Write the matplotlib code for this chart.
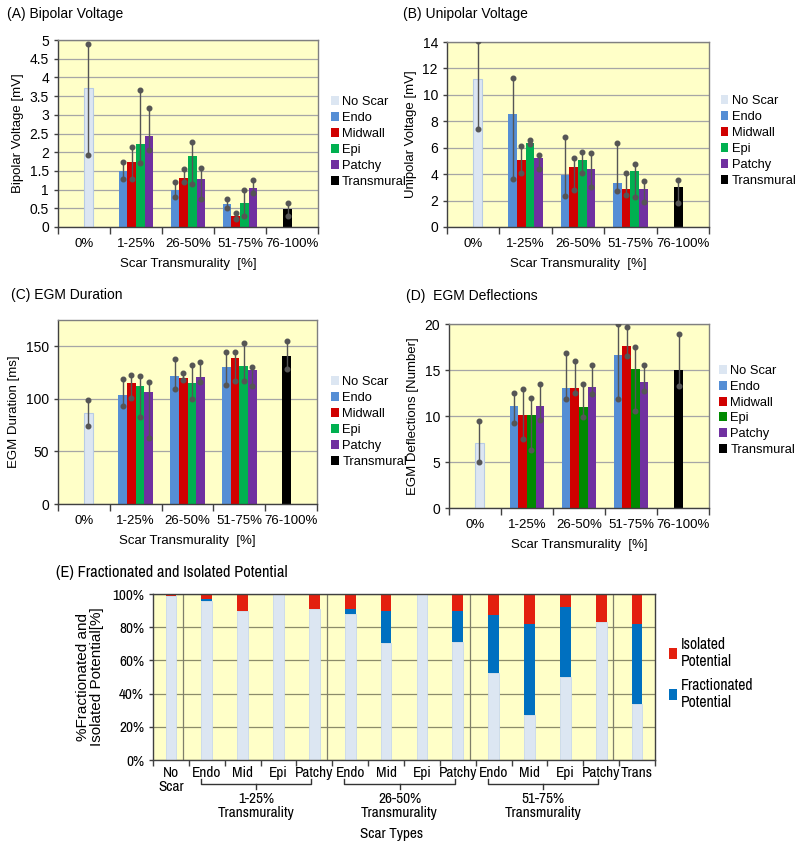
import matplotlib
matplotlib.use("Agg")
import matplotlib.pyplot as plt
import matplotlib.transforms as mtransforms
from matplotlib.patches import Patch
import numpy as np
from matplotlib import font_manager

# ---------------- data ----------------
groups = ['0%', '1-25%', '26-50%', '51-75%', '76-100%']
series_names = ['No Scar', 'Endo', 'Midwall', 'Epi', 'Patchy', 'Transmural']
bar_series = ['No Scar', 'Endo', 'Midwall', 'Epi', 'Patchy',
              'Endo', 'Midwall', 'Epi', 'Patchy',
              'Endo', 'Midwall', 'Epi', 'Patchy', 'Transmural']
bar_group = [0, 1, 1, 1, 1, 2, 2, 2, 2, 3, 3, 3, 3, 4]

bip_mean = [3.72, 1.50, 1.74, 2.23, 2.43, 1.00, 1.30, 1.90, 1.28, 0.61, 0.30, 0.65, 1.04, 0.47]
bip_low = [1.92, 1.29, 1.29, 1.70, 2.05, 0.80, 1.20, 1.14, 0.76, 0.51, 0.22, 0.29, 0.92, 0.29]
bip_high = [4.89, 1.74, 2.14, 3.66, 3.17, 1.20, 1.54, 2.28, 1.59, 0.76, 0.37, 1.00, 1.25, 0.63]

uni_mean = [11.2, 8.53, 5.05, 6.36, 5.23, 3.91, 4.55, 5.05, 4.39, 3.33, 2.88, 4.22, 2.88, 3.00]
uni_low = [7.42, 3.66, 4.09, 6.25, 4.39, 2.37, 2.83, 4.09, 3.03, 2.70, 2.40, 2.25, 1.87, 1.82]
uni_high = [14.1, 11.24, 6.11, 6.55, 5.48, 6.82, 5.25, 5.66, 5.60, 6.36, 4.09, 4.77, 3.51, 3.54]

dur_mean = [86.6, 103.5, 115.3, 112.0, 106.7, 122.0, 119.7, 115.0, 120.7, 130.0, 138.5, 131.0, 127.7, 140.4]
dur_low = [73.9, 93.0, 101.0, 82.8, 62.7, 109.6, 117.8, 100.0, 116.0, 113.4, 116.6, 116.6, 112.0, 128.0]
dur_high = [98.7, 118.5, 122.6, 122.0, 116.0, 137.6, 124.8, 132.0, 135.0, 145.0, 145.0, 153.5, 130.3, 155.0]

defl_mean = [7.09, 11.09, 10.1, 10.1, 11.13, 13.09, 13.09, 11.0, 13.16, 16.65, 17.63, 15.16, 13.7, 15.0]
defl_low = [4.95, 9.27, 7.45, 6.30, 9.56, 11.8, 12.47, 9.85, 12.4, 11.8, 16.55, 10.58, 12.7, 13.27]
defl_high = [9.45, 12.47, 12.95, 11.93, 13.5, 16.9, 15.93, 13.5, 15.5, 20.0, 19.63, 17.49, 15.5, 18.95]

# Panel E (percent)
e_labels = ['No\nScar', 'Endo', 'Mid', 'Epi', 'Patchy', 'Endo', 'Mid', 'Epi', 'Patchy',
            'Endo', 'Mid', 'Epi', 'Patchy', 'Trans']
e_none = [99, 95.5, 90, 100, 91, 88, 70.5, 100, 71, 52.5, 27, 50, 83, 34]
e_fract = [0, 1.5, 0, 0, 0, 3, 19.5, 0, 19, 35, 55, 42, 0, 48]
e_isol = [1, 3, 10, 0, 9, 9, 10, 0, 10, 12.5, 18, 8, 17, 18]
e_brackets = [('1-25%\nTransmurality', 1, 4), ('26-50%\nTransmurality', 5, 8),
              ('51-75%\nTransmurality', 9, 12)]

# ---------------- style ----------------
ttf = font_manager.fontManager.ttflist
avail = {f.name for f in ttf}
base_font = 'Liberation Sans' if 'Liberation Sans' in avail else 'DejaVu Sans'
narrow = None
for f in ttf:
    if ('Narrow' in f.name or 'Condensed' in f.name) and 'Mono' not in f.name \
            and 'Serif' not in f.name:
        narrow = f.name
        break
narrow_stretch = 'normal'
if narrow is None:
    for f in ttf:
        if f.stretch in ('condensed', 'semi-condensed') and 'Mono' not in f.name \
                and 'Serif' not in f.name:
            narrow = f.name
            narrow_stretch = f.stretch
            break
if narrow is None:
    narrow = base_font
NF = dict(family=[narrow, 'DejaVu Sans'], stretch=narrow_stretch)
plt.rcParams['font.family'] = [base_font, 'DejaVu Sans']

FS = 9.5
EFS = 11
BG = '#ffffc8'
GRID = '#a6a6a6'
colors = {'No Scar': '#dce6f2', 'Endo': '#558ed5', 'Midwall': '#d00000',
          'Epi': '#00b050', 'Patchy': '#7030a0', 'Transmural': '#000000'}
slot = {'No Scar': 0.5, 'Endo': -1.5, 'Midwall': -0.5, 'Epi': 0.5, 'Patchy': 1.5,
        'Transmural': -0.5}
W = 1.0 / 6.0

fig = plt.figure(figsize=(8.0, 8.49), dpi=100)


def box(l, t, r, b):
    return [l / 800, 1 - b / 849, (r - l) / 800, (b - t) / 849]


def panel(rect, mean, low, high, ylim, yticks, yticklabels, ylabel, title, title_xy,
          epi_color=None, legend_anchor=(1.01, 0.5)):
    ax = fig.add_axes(box(*rect))
    ax.set_facecolor(BG)
    cols = dict(colors)
    if epi_color:
        cols['Epi'] = epi_color
    x = np.array([g + slot[s] * W for g, s in zip(bar_group, bar_series)])
    mean = np.array(mean)
    for xi, m, s in zip(x, mean, bar_series):
        ec = '#b8cce4' if s == 'No Scar' else 'none'
        ax.bar(xi, m, width=W, color=cols[s], edgecolor=ec, linewidth=0.8, zorder=2)
    yerr = [mean - np.array(low), np.array(high) - mean]
    _, caps, _ = ax.errorbar(x, mean, yerr=yerr, fmt='none', ecolor='#555555',
                             elinewidth=1.0, capsize=2.2, zorder=3)
    for c in caps:
        c.set_marker('o')
        c.set_markersize(3.3)
        c.set_color('#555555')
    ax.set_xlim(-0.5, 4.5)
    ax.set_ylim(*ylim)
    ax.set_yticks(yticks)
    ax.set_yticklabels(yticklabels, fontsize=FS + 0.5)
    ax.set_xticks(range(len(groups)))
    ax.set_xticklabels(groups, fontsize=FS)
    ax.set_xticks(np.arange(-0.5, 4.6, 1), minor=True)
    ax.tick_params(axis='x', which='major', length=0, pad=8)
    ax.tick_params(axis='x', which='minor', length=5, width=1, color='#404040')
    ax.tick_params(axis='y', length=3, width=1, color='#404040')
    ax.yaxis.grid(True, color=GRID, linewidth=0.9, zorder=0)
    ax.set_axisbelow(True)
    for sp in ['top', 'right']:
        ax.spines[sp].set_color('#808080')
        ax.spines[sp].set_linewidth(1.0)
    for sp in ['left', 'bottom']:
        ax.spines[sp].set_color('#404040')
        ax.spines[sp].set_linewidth(1.0)
    ax.set_ylabel(ylabel, fontsize=FS, labelpad=4)
    ax.set_xlabel('Scar Transmurality  [%]', fontsize=FS, labelpad=6)
    fig.text(title_xy[0] / 800, 1 - title_xy[1] / 849, title, fontsize=10,
             ha='left', va='center')
    handles = [Patch(facecolor=cols[s], edgecolor='none') for s in series_names]
    ax.legend(handles, series_names, loc='center left', bbox_to_anchor=legend_anchor,
              frameon=False, fontsize=9.3, handlelength=0.6, handleheight=0.7,
              handletextpad=0.25, labelspacing=0.3, borderaxespad=0)
    return ax


panel((58, 40, 318, 227), bip_mean, bip_low, bip_high, (0, 5),
      np.arange(0, 5.01, 0.5), ['0', '0.5', '1', '1.5', '2', '2.5', '3', '3.5', '4', '4.5', '5'],
      'Bipolar Voltage [mV]', '(A) Bipolar Voltage', (7, 14), legend_anchor=(1.03, 0.455))
panel((447, 42, 709, 227), uni_mean, uni_low, uni_high, (0, 14),
      np.arange(0, 14.1, 2), [str(v) for v in range(0, 15, 2)],
      'Unipolar Voltage [mV]', '(B) Unipolar Voltage', (403, 14), legend_anchor=(1.025, 0.465))
panel((58, 320, 317, 504), dur_mean, dur_low, dur_high, (0, 175),
      [0, 50, 100, 150], ['0', '50', '100', '150'],
      'EGM Duration [ms]', '(C) EGM Duration', (11, 295), legend_anchor=(1.035, 0.445))
panel((449, 324, 709, 508), defl_mean, defl_low, defl_high, (0, 20),
      [0, 5, 10, 15, 20], ['0', '5', '10', '15', '20'],
      'EGM Deflections [Number]', '(D)  EGM Deflections', (406, 296),
      epi_color='#008a00', legend_anchor=(1.02, 0.53))

# ---------------- panel E ----------------
axE = fig.add_axes(box(153, 594, 655, 760))
axE.set_facecolor(BG)
xe = np.arange(len(e_labels))
none = np.array(e_none)
fract = np.array(e_fract)
isol = np.array(e_isol)
axE.bar(xe, none, width=0.3, color='#dce6f2', edgecolor='#c9d8ec', linewidth=0.6, zorder=2)
axE.bar(xe, fract, width=0.3, bottom=none, color='#0070c0', zorder=2)
axE.bar(xe, isol, width=0.3, bottom=none + fract, color='#e3200f', zorder=2)
axE.set_xlim(-0.5, len(e_labels) - 0.5)
axE.set_ylim(0, 100)
axE.set_yticks(np.arange(0, 101, 20))
axE.set_yticklabels(['%d%%' % v for v in range(0, 101, 20)], fontsize=EFS, **NF)
axE.yaxis.grid(True, color='#8c8c6a', linewidth=0.9, zorder=0)
for xv in [0.34, 4.34, 8.34, 12.34]:
    axE.axvline(xv, color='#7f7f6a', linewidth=0.9, zorder=1)
axE.set_axisbelow(True)
axE.set_xticks(xe)
axE.set_xticklabels(e_labels, fontsize=EFS, linespacing=1.0, **NF)
axE.set_xticks(np.arange(-0.5, len(e_labels), 1), minor=True)
axE.tick_params(axis='x', which='major', length=0, pad=4)
axE.tick_params(axis='x', which='minor', length=4, width=1, color='#404040')
axE.tick_params(axis='y', length=3, width=1, color='#404040')
for sp in ['top', 'right', 'left', 'bottom']:
    axE.spines[sp].set_color('#404040')
    axE.spines[sp].set_linewidth(1.0)
axE.set_ylabel('%Fractionated and\nIsolated Potential[%]', fontsize=EFS, labelpad=6,
               linespacing=1.0)
trans = mtransforms.blended_transform_factory(axE.transData, axE.transAxes)
for lab, g0, g1 in e_brackets:
    xa, xb = g0 - 0.17, g1 - 0.08
    xm = (xa + xb) / 2
    yb = -0.145
    axE.plot([xa, xa, xb, xb], [yb + 0.03, yb, yb, yb + 0.03], transform=trans,
             color='#333333', lw=1.0, clip_on=False)
    axE.plot([xm, xm], [yb, yb - 0.03], transform=trans, color='#333333', lw=1.0,
             clip_on=False)
    axE.text(xm, yb - 0.045, lab, transform=trans, ha='center', va='top', fontsize=EFS,
             linespacing=1.05, **NF)
fig.text(392 / 800, 1 - 834 / 849, 'Scar Types', ha='center', va='center', fontsize=EFS,
         **NF)
fig.text(56 / 800, 1 - 572 / 849, '(E) Fractionated and Isolated Potential', ha='left',
         va='center', fontsize=11.8, **NF)
hE = [Patch(facecolor='#e3200f'), Patch(facecolor='#0070c0')]
axE.legend(hE, ['Isolated\nPotential', 'Fractionated\nPotential'], loc='center left',
           bbox_to_anchor=(1.015, 0.52), frameon=False,
           prop={'family': [narrow, 'DejaVu Sans'], 'stretch': narrow_stretch, 'size': EFS + 0.3},
           handlelength=0.5, handleheight=0.7, handletextpad=0.3, labelspacing=0.55,
           borderaxespad=0)

fig.savefig('out.png', dpi=100, facecolor='white')
